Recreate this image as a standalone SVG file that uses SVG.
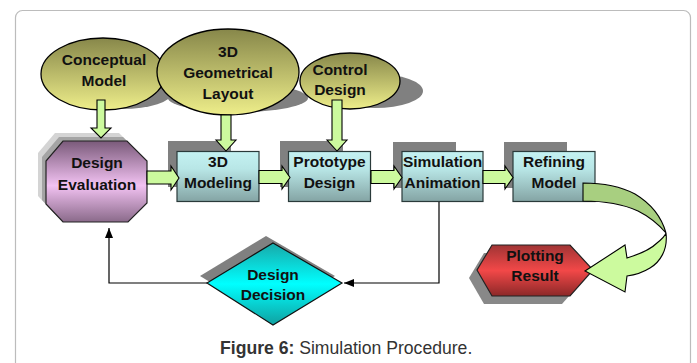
<svg xmlns="http://www.w3.org/2000/svg" width="697" height="363" viewBox="0 0 697 363">
<defs>
<linearGradient id="gEll" x1="0" y1="0" x2="0" y2="1"><stop offset="0" stop-color="#87874a"/><stop offset="1" stop-color="#eeee8a"/></linearGradient>
<linearGradient id="gBox" x1="0" y1="0" x2="0" y2="1"><stop offset="0" stop-color="#c4f2f2"/><stop offset="0.35" stop-color="#b8e6e6"/><stop offset="1" stop-color="#84a4a4"/></linearGradient>
<linearGradient id="gOct" x1="0" y1="0" x2="0" y2="1"><stop offset="0" stop-color="#7a5a7a"/><stop offset="0.55" stop-color="#f2c2f2"/><stop offset="1" stop-color="#8a6a8a"/></linearGradient>
<linearGradient id="gDia" x1="0" y1="0" x2="0" y2="1"><stop offset="0" stop-color="#18a8a8"/><stop offset="0.5" stop-color="#00ffff"/><stop offset="1" stop-color="#10a0a0"/></linearGradient>
<linearGradient id="gHex" x1="0" y1="0" x2="0" y2="1"><stop offset="0" stop-color="#a03434"/><stop offset="0.5" stop-color="#f24848"/><stop offset="1" stop-color="#8c2828"/></linearGradient>
<marker id="tri" viewBox="0 0 10 8" refX="10" refY="4" markerWidth="10" markerHeight="8" markerUnits="userSpaceOnUse" orient="auto"><path d="M0,0 L10,4 L0,8 Z" fill="#000"/></marker>
</defs>
<style>
.lbl{font-family:"Liberation Sans",Arial,sans-serif;font-weight:bold;font-size:15.5px;fill:#111;text-anchor:middle}
.ell{fill:url(#gEll);stroke:#000;stroke-width:1.3}
.box{fill:url(#gBox);stroke:#2a3a3a;stroke-width:1.2}
.sh{fill:#808080}
.ga{fill:#ccfa9e;stroke:#000;stroke-width:1.1;stroke-linejoin:miter}
.line{fill:none;stroke:#000;stroke-width:1.2}
.cap{font-family:"Liberation Sans",Arial,sans-serif;font-size:17.6px;fill:#333}
</style>
<rect x="15.5" y="10.5" width="675" height="380" rx="7" fill="#fff" stroke="#bcbcbc" stroke-width="1.2"/>

<g id="shadows">
<ellipse class="sh" cx="122" cy="93" rx="50" ry="16"/>
<ellipse class="sh" cx="238" cy="98" rx="70" ry="14"/>
<ellipse class="sh" cx="375" cy="91" rx="48" ry="17"/>
</g>

<g id="conceptual-model">
<ellipse class="ell" cx="103" cy="74" rx="62" ry="36"/>
<text class="lbl" x="104" y="65">Conceptual</text>
<text class="lbl" x="104" y="86">Model</text>
</g>
<g id="geometrical-layout">
<ellipse class="ell" cx="228" cy="72" rx="71" ry="43"/>
<text class="lbl" x="228" y="57">3D</text>
<text class="lbl" x="228" y="78">Geometrical</text>
<text class="lbl" x="228" y="99">Layout</text>
</g>
<g id="control-design">
<ellipse class="ell" cx="350" cy="81" rx="50" ry="28"/>
<text class="lbl" x="340" y="75">Control</text>
<text class="lbl" x="340" y="95">Design</text>
</g>

<g id="design-evaluation">
<polygon points="55,133 119,133 139,153 139,195 120,214 55,214 38,196 38,153" fill="#d4d4d4"/>
<polygon points="59,137 123,137 143,157 143,199 124,218 59,218 42,200 42,157" fill="#a4a4a4"/>
<polygon points="63,141 127,141 147,161 147,203 128,222 63,222 46,204 46,161" fill="url(#gOct)" stroke="#222" stroke-width="1.2"/>
<text class="lbl" x="97" y="168">Design</text>
<text class="lbl" x="97" y="190">Evaluation</text>
</g>

<g id="modeling-3d">
<rect class="sh" x="168" y="141" width="63" height="46"/>
<rect class="box" x="177" y="151.5" width="82" height="50"/>
<text class="lbl" x="218" y="167">3D</text>
<text class="lbl" x="218" y="188">Modeling</text>
</g>
<g id="prototype-design">
<rect class="sh" x="280" y="141" width="63" height="46"/>
<rect class="box" x="288.5" y="151.5" width="82" height="50"/>
<text class="lbl" x="329.5" y="167">Prototype</text>
<text class="lbl" x="329.5" y="188">Design</text>
</g>
<g id="simulation-animation">
<rect class="sh" x="393" y="142" width="63" height="46"/>
<rect class="box" x="402" y="151.5" width="81" height="50"/>
<text class="lbl" x="442.5" y="167">Simulation</text>
<text class="lbl" x="442.5" y="188">Animation</text>
</g>
<g id="refining-model">
<rect class="sh" x="504" y="142" width="63" height="46"/>
<rect class="box" x="513" y="151.5" width="82" height="50"/>
<text class="lbl" x="554" y="167">Refining</text>
<text class="lbl" x="554" y="188">Model</text>
</g>

<g id="design-decision">
<polygon points="266,236 335,276 266,316 200,276" class="sh"/>
<polygon points="273,243 342,283 273,325 207,283" fill="url(#gDia)" stroke="#111" stroke-width="1.2"/>
<text class="lbl" x="273" y="280">Design</text>
<text class="lbl" x="273" y="300">Decision</text>
</g>

<g id="plotting-result">
<polygon points="484,253 562,253 585,278 562,304 484,304 469,278" fill="#888"/>
<polygon points="492,245 570,245 593,270 570,296 492,296 477,270" fill="url(#gHex)" stroke="#222" stroke-width="1.2"/>
<text class="lbl" x="535" y="261">Plotting</text>
<text class="lbl" x="535" y="281">Result</text>
</g>

<g id="connectors">
<polygon class="ga" points="97,100 105,100 105,128 111,128 101,138 91,128 97,128"/>
<polygon class="ga" points="221,115 231,115 231,140 236,140 226,151 216,140 221,140"/>
<polygon class="ga" points="332,100 342,100 342,140 347,140 337,151 327,140 332,140"/>
<polygon class="ga" points="147,171 171,171 171,166 179,178 171,190 171,184 147,184"/>
<polygon class="ga" points="259,170.5 282,170.5 282,166 290,177.5 282,189 282,183.5 259,183.5"/>
<polygon class="ga" points="371,170.5 394,170.5 394,166 402,177.5 394,189 394,183.5 371,183.5"/>
<polygon class="ga" points="483,170.5 505,170.5 505,166 513,177.5 505,189 505,183.5 483,183.5"/>
<path d="M583,183 C600,183 620,186 635,194 C650,203 661,215 666,233 C660,226 650,217 638,211 C625,205 610,201 583,201 Z" fill="#a8cf80" stroke="#000" stroke-width="1.1"/>
<path d="M666,233 C668,250 660,262 650,268 C642,273 635,275 627,276 L625,292 L585,271 L625,245 L627,258 C640,254 650,250 657,243 C662,239 665,236 666,233 Z" class="ga"/>
<polyline class="line" points="439,202 439,283 344,283" marker-end="url(#tri)"/>
<polyline class="line" points="207,283 109,283 109,228" marker-end="url(#tri)"/>
</g>

<text class="cap" x="220" y="354"><tspan font-weight="bold">Figure 6:</tspan> Simulation Procedure.</text>
</svg>
